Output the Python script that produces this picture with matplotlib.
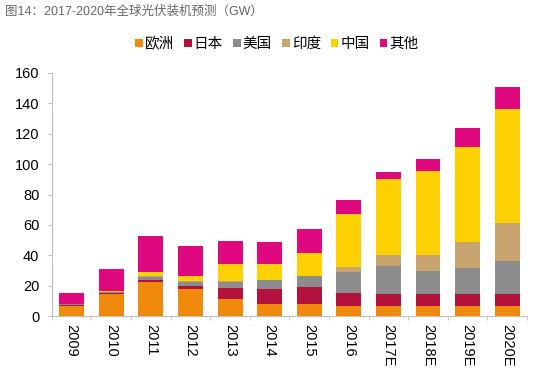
import matplotlib
matplotlib.use("Agg")
import matplotlib.pyplot as plt
import numpy as np

plt.rcParams['font.family'] = ['Liberation Sans', 'Noto Sans CJK SC']

# data (GW)
years = ["2009", "2010", "2011", "2012", "2013", "2014", "2015", "2016",
         "2017E", "2018E", "2019E", "2020E"]
europe = [6.6, 14.3, 22.6, 17.8, 11.2, 8.2, 8.2, 7.0, 7.0, 7.0, 7.0, 7.0]
japan = [0.8, 1.0, 1.5, 2.0, 7.0, 9.4, 11.0, 8.1, 7.7, 7.7, 7.7, 7.7]
usa = [0.3, 0.5, 1.8, 3.0, 4.5, 5.9, 7.0, 13.8, 18.0, 14.7, 17.1, 21.4]
india = [0.0, 0.2, 0.3, 0.5, 0.5, 0.0, 0.2, 3.7, 7.7, 11.0, 16.8, 25.0]
china = [0.2, 0.6, 2.6, 3.1, 11.0, 10.5, 15.3, 34.7, 50.0, 54.8, 62.5, 75.3]
other = [7.4, 14.1, 24.0, 19.9, 15.1, 14.5, 15.4, 9.2, 4.4, 8.0, 12.8, 14.6]

names = ["欧洲", "日本", "美国", "印度", "中国", "其他"]
colors = ["#EF8A0C", "#B3123C", "#8C8C8C", "#C8A46E", "#FDD000", "#E0087E"]

fig = plt.figure(figsize=(5.35, 3.8), dpi=100)
ax = fig.add_axes([0.097, 0.168, 0.888, 0.64])

x = np.arange(len(years))
bottom = np.zeros(len(years))
for vals, name, col in zip([europe, japan, usa, india, china, other], names, colors):
    ax.bar(x, vals, 0.63, bottom=bottom, color=col, label=name)
    bottom += np.array(vals)

ax.set_xlim(-0.5, len(years) - 0.5)
ax.set_ylim(0, 160)
ax.set_yticks(range(0, 161, 20))
ax.tick_params(axis='y', labelsize=10.5, length=3, color="#BFBFBF", pad=6)
ax.set_xticks(x)
ax.set_xticklabels(years, rotation=-90, fontsize=10.5)
ax.tick_params(axis='x', length=0, pad=6)
ax.set_xticks(np.arange(-0.5, len(years)), minor=True)
ax.tick_params(axis='x', which='minor', length=3, color="#BFBFBF")

for s in ['top', 'right']:
    ax.spines[s].set_visible(False)
for s in ['left', 'bottom']:
    ax.spines[s].set_color("#BFBFBF")

fig.text(0.01, 0.968, "图14：2017-2020年全球光伏装机预测（GW）", fontsize=9,
         color="#666666", va='center', ha='left')

fig.legend(loc='center', bbox_to_anchor=(0.518, 0.884), ncol=6, frameon=False,
           fontsize=10.5, handlelength=0.5, handleheight=0.5, handletextpad=0.15,
           columnspacing=0.7)

fig.savefig("out.png", dpi=100)
